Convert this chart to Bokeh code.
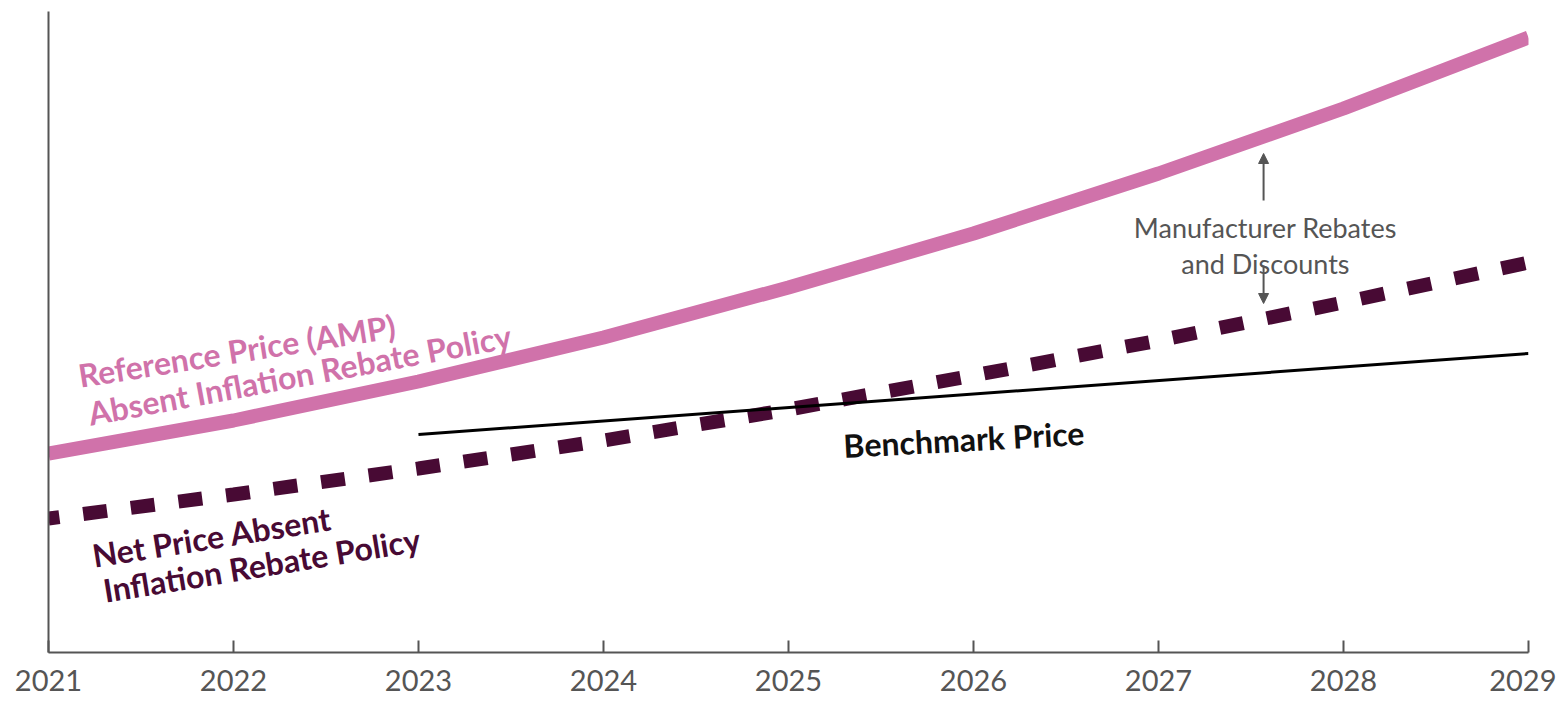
from bokeh.plotting import figure
from bokeh.models import Range1d, FixedTicker, Arrow, NormalHead, Label
from bokeh.embed import file_html
from bokeh.resources import INLINE
import math

# ---- data ----
years = [2021, 2022, 2023, 2024, 2025, 2026, 2027, 2028, 2029]
reference_price = [199, 232, 271, 315, 365, 419, 479, 544, 615]
net_price = [134, 158, 184, 212, 243, 277, 312, 350, 390]
benchmark_years = [2023, 2029]
benchmark_price = [218, 299]
tick_labels = ["2021", "2022", "2023", "2024", "2025", "2026", "2027", "2028", "2029"]

PINK = "#D072AA"
PLUM = "#480A34"
GRAY = "#555555"
FONT = "Lato"

p = figure(width=1556, height=701,
           x_range=Range1d(2021, 2029), y_range=Range1d(0, 641),
           output_backend="svg", toolbar_location=None,
           min_border_left=48, min_border_right=28,
           min_border_top=11, min_border_bottom=49)
p.outline_line_color = None
p.grid.visible = False
p.background_fill_color = "white"
p.border_fill_color = "white"

# x axis
xa = p.xaxis[0]
xa.ticker = FixedTicker(ticks=years)
xa.major_label_overrides = {y: l for y, l in zip(years, tick_labels)}
xa.major_tick_in = 12
xa.major_tick_out = 0
xa.major_tick_line_color = GRAY
xa.major_tick_line_width = 2
xa.minor_tick_line_color = None
xa.axis_line_color = GRAY
xa.axis_line_width = 2
xa.major_label_text_font = FONT
xa.major_label_text_font_size = "29px"
xa.major_label_text_color = GRAY
xa.major_label_standoff = 17

# y axis: line only
ya = p.yaxis[0]
ya.ticker = FixedTicker(ticks=[])
ya.minor_tick_line_color = None
ya.major_tick_line_color = None
ya.axis_line_color = GRAY
ya.axis_line_width = 2

# lines
p.line(years, reference_price, line_color=PINK, line_width=14, line_cap="butt")
p.line(years, net_price, line_color=PLUM, line_width=14, line_dash="24 24",
       line_dash_offset=13, line_cap="butt")
p.line(benchmark_years, benchmark_price, line_color="black", line_width=3)

def lab(x, y, text, deg, color, size="32px", style="bold", align="left"):
    p.add_layout(Label(x=x, y=y, text=text, angle=math.radians(deg),
                       text_font=FONT, text_font_style=style, text_font_size=size,
                       text_color=color, text_align=align,
                       text_baseline="alphabetic"))

lab(2021.162, 277, "Reference Price (AMP)", 9.0, PINK)
lab(2021.216, 239, "Absent Inflation Rebate Policy", 10.5, PINK)
lab(2021.238, 97, "Net Price Absent", 9.0, PLUM)
lab(2021.297, 62, "Inflation Rebate Policy", 9.3, PLUM)
lab(2025.297, 207, "Benchmark Price", 3.1, "#111111")
lab(2027.578, 425, "Manufacturer Rebates", 0, GRAY, size="27px", style="normal", align="center")
lab(2027.578, 389, "and Discounts", 0, GRAY, size="27px", style="normal", align="center")

ax = 2027.568
p.add_layout(Arrow(end=NormalHead(size=10, fill_color=GRAY, line_color=GRAY),
                   x_start=ax, y_start=452, x_end=ax, y_end=499,
                   line_color=GRAY, line_width=2))
p.add_layout(Arrow(end=NormalHead(size=10, fill_color=GRAY, line_color=GRAY),
                   x_start=ax, y_start=387, x_end=ax, y_end=349,
                   line_color=GRAY, line_width=2))

open("out.html", "w").write(file_html(p, INLINE))
